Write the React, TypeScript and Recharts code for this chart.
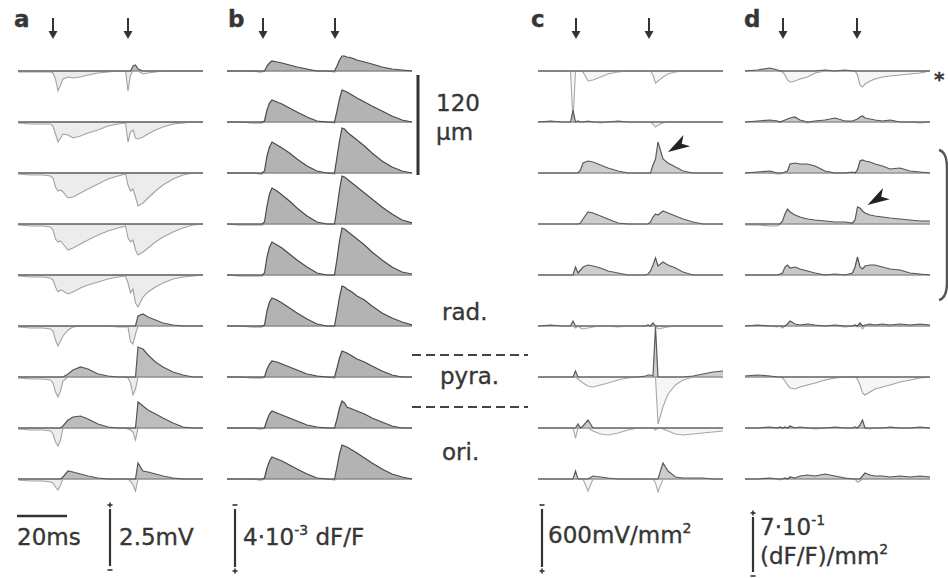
import React from "react";
import { Area, ComposedChart, Line, ReferenceDot, ReferenceLine, XAxis, YAxis } from "recharts";

// sample times (ms from start of each sweep), shared by all panels
const TIME = [0, 5, 10, 13, 14, 15, 16, 17, 18, 20, 22, 25, 28, 32, 36, 40, 43, 44, 45, 46, 47, 48, 50, 52, 55, 58, 62, 66, 70, 74];

// amplitudes in display units (60 units = one vertical scale bar), upper recording site first

// a: field potentials
const FIELD_POT = [
  [-1, -1, -1, -1, -2, -8, -20, -14, -8, -6, -7, -6, -4, -2, -1, 0, 0, -20, -4, 5, 6, 2, -3, -2, -1, 0, 0, 0, 0, 0],
  [-1, -2, -2, -2, -4, -12, -20, -16, -12, -13, -16, -14, -11, -8, -4, -2, -1, -20, -10, -8, -16, -17, -15, -12, -8, -5, -2, -1, 0, 0],
  [-1, -2, -2, -3, -5, -14, -18, -17, -19, -25, -24, -20, -16, -11, -6, -3, -1, -12, -18, -16, -24, -33, -30, -25, -18, -12, -6, -2, 0, 0],
  [-1, -2, -2, -3, -6, -15, -18, -17, -20, -26, -24, -20, -16, -11, -7, -4, -2, -14, -18, -16, -26, -31, -28, -24, -18, -13, -8, -4, -1, 0],
  [-1, -2, -2, -3, -5, -12, -17, -15, -16, -19, -17, -13, -10, -7, -4, -2, -1, -8, -18, -14, -28, -32, -22, -17, -12, -8, -4, -2, -1, 0],
  [-1, -2, -2, -3, -5, -14, -20, -15, -10, -4, -1, 0, 0, 0, 0, -1, -1, -1, -16, -18, -8, 10, 12, 9, 6, 3, 1, 0, 0, 0],
  [-1, -2, -2, -3, -6, -15, -20, -14, -4, 3, 7, 10, 8, 3, 1, 0, 0, -1, -6, -18, -12, 30, 28, 22, 15, 10, 5, 2, 0, 0],
  [-1, -2, -2, -3, -6, -14, -18, -12, 2, 8, 11, 12, 9, 4, 1, 0, 0, -1, -2, -4, -12, 26, 22, 18, 14, 10, 5, 1, 0, 0],
  [-1, -2, -2, -3, -4, -8, -11, -6, 2, 8, 7, 5, 3, 1, 0, 0, 0, 0, -2, -6, -12, 16, 8, 7, 5, 3, 1, 0, 0, 0],
];

// b: optical signal dF/F
const OPTICAL = [
  [0, 0, 0, -1, -1, 0, 5, 8, 10, 9, 8, 6, 4, 2, 0, 0, -1, 5, 11, 15, 15, 14, 13, 11, 9, 7, 4, 2, 1, 0],
  [0, 0, -1, -1, -1, 1, 12, 19, 22, 20, 18, 14, 10, 5, 1, 0, -1, 11, 23, 32, 31, 30, 27, 24, 20, 16, 11, 6, 2, 0],
  [0, 0, 0, -1, -1, 2, 17, 26, 31, 28, 25, 20, 14, 7, 2, 0, -1, 16, 32, 45, 44, 41, 37, 33, 27, 20, 12, 6, 2, 0],
  [0, -1, -1, -1, -1, 2, 18, 30, 36, 33, 29, 23, 16, 8, 2, 0, 0, 16, 34, 48, 47, 45, 41, 37, 31, 25, 17, 10, 4, 1],
  [0, -1, -1, -1, -1, 2, 18, 28, 33, 30, 27, 21, 15, 8, 2, 0, 0, 16, 34, 47, 46, 44, 40, 36, 30, 23, 15, 8, 3, 1],
  [0, 0, -1, -1, -1, 1, 15, 24, 28, 26, 23, 18, 13, 7, 2, 0, 0, 14, 29, 40, 39, 37, 34, 30, 26, 20, 13, 8, 4, 1],
  [0, 0, -1, -1, -1, 0, 8, 13, 16, 15, 13, 10, 7, 3, 1, 0, -1, 9, 19, 26, 25, 24, 21, 18, 15, 11, 6, 2, 0, 0],
  [0, 0, 0, -1, -1, 0, 8, 14, 17, 15, 13, 10, 7, 3, 1, 0, 0, 9, 20, 27, 25, 21, 19, 17, 14, 10, 6, 2, 0, 0],
  [0, 0, 0, -1, -1, 1, 11, 18, 22, 20, 18, 14, 10, 5, 1, 0, -1, 12, 25, 34, 33, 32, 29, 26, 21, 16, 10, 5, 2, 0],
];

// c: current source density of the field potentials
const CSD = [
  [0, 0, 0, 0, -50, 0, 0, 0, -1, -10, -9, -6, -3, -1, 0, 0, 0, 0, 0, -4, -12, -10, -6, -3, -1, 0, 0, 0, 0, 0],
  [0, 1, 0, 0, 12, 0, 1, 0, 0, 1, 0, -1, 0, 1, 0, 0, 0, 0, 0, -2, -5, -3, -1, 0, 0, 0, 0, 0, 0, 0],
  [0, 0, 0, 0, 0, 0, 0, 3, 10, 12, 11, 8, 5, 2, 0, 0, 0, 0, 0, 8, 14, 31, 14, 10, 6, 2, 0, 0, 0, 0],
  [0, 0, 0, 0, 0, 0, 0, 1, 5, 12, 11, 8, 5, 1, 0, 0, 0, 0, 2, 7, 10, 9, 13, 11, 8, 5, 2, 0, 0, 0],
  [0, 0, 0, 0, 0, 8, 2, 5, 8, 10, 9, 7, 4, 2, 0, 0, 0, 1, 4, 10, 17, 9, 13, 10, 7, 3, 0, 0, 0, 0],
  [0, 1, 0, 0, 5, -2, 0, -2, -3, -2, -1, 0, 0, -1, 0, 0, 0, 1, 0, 3, 0, -3, -2, -1, 0, 0, 0, 0, 0, 0],
  [0, 0, 0, 0, 0, 6, -2, -4, -6, -9, -10, -8, -6, -3, -1, 0, 1, 2, 2, 1, 50, -47, -30, -17, -8, -3, 1, 3, 5, 6],
  [0, 0, 0, 0, 0, -10, 4, 0, 2, 8, -3, -6, -7, -5, -2, 0, 0, 0, 0, 0, -2, 0, -1, -3, -6, -7, -6, -5, -4, -3],
  [0, 0, 0, 0, 0, 8, 0, 0, 0, -12, 3, 2, 1, 0, 0, 0, 0, 0, 0, 0, -4, -13, 16, 8, 2, 1, 1, 1, 0, 0],
];

// d: current source density of the optical signal
const OPTICAL_CSD = [
  [0, 1, 3, 1, 0, -1, -4, -9, -11, -10, -8, -6, -2, 1, 0, 1, 0, 0, -4, -14, -16, -13, -10, -8, -6, -5, -4, -3, -2, 0],
  [0, 1, 2, 1, 0, 1, 2, 3, 4, 5, 2, -1, 1, 2, 4, 1, 1, 2, 3, 5, 6, 4, 3, 2, 1, 2, 0, 0, -1, 0],
  [0, 1, 2, -1, -1, 0, 1, 2, 9, 10, 9, 9, 7, 2, 0, 0, 1, 0, 3, 12, 13, 12, 11, 9, 7, 4, 5, 2, 1, 0],
  [-1, -1, -2, -2, 0, 3, 10, 15, 12, 9, 7, 5, 4, 3, 2, 2, 1, 4, 17, 16, 13, 11, 9, 8, 7, 6, 5, 4, 3, 3],
  [0, 0, 0, 0, 1, 2, 8, 10, 7, 8, 6, 4, 2, 0, 1, 0, 2, 8, 18, 8, 6, 9, 10, 10, 8, 6, 5, 2, 1, 0],
  [0, 1, 0, -1, 0, -2, 0, 2, 5, 2, 1, 2, 1, 0, 1, -1, 0, 1, -1, 3, -3, 1, 2, 1, 2, 1, 2, 1, 2, 1],
  [1, 2, 1, 0, 0, -1, -4, -8, -11, -12, -10, -8, -6, -3, -1, 0, 0, 0, -2, -8, -16, -18, -15, -12, -10, -8, -5, -3, -1, 0],
  [0, 0, 1, 0, 1, 0, 1, 0, 2, 0, 1, 0, -1, 0, 1, 0, 0, 1, 0, 3, 8, 0, -1, 0, 0, 1, 0, 0, 1, 0],
  [0, 0, 1, 0, -1, 0, 1, 0, 2, 1, 3, 4, 3, 5, 3, 1, 0, 0, -3, -2, 3, 6, 4, 3, 3, 2, 3, 2, 3, 2],
];

// stimulus times (ms) for the arrows
const STIM_A = [14, 44];
const STIM_B = [14.4, 43.2];
const STIM_C = [15.2, 44.4];
const STIM_D = [15.2, 44.8];

// arrowheads marking the early spike: [trace, ms, amplitude]
const MARK_C = [2, 52, 21];
const MARK_D = [3, 49, 19];

const T_MAX = 74;
const PANEL_W = 185;
const PX_PER_MS = PANEL_W / T_MAX;
const CHART_H = 500;
const SPACING = 51;
const Y_MAX = 71;
const Y_MIN = Y_MAX - CHART_H;
const ARROW_TIP = 32;

const TEXT = "#363636";
const FONT = "'DejaVu Sans', 'Liberation Sans', sans-serif";

const PANELS = [
  { key: "a", left: 18, labelX: 14, traces: FIELD_POT, stim: STIM_A, mark: null,
    posFill: "#bdbdbd", negFill: "#ececec", posStroke: "#555", negStroke: "#a2a2a2", base: "#6a6a6a" },
  { key: "b", left: 227, labelX: 228, traces: OPTICAL, stim: STIM_B, mark: null,
    posFill: "#b3b3b3", negFill: "#f2f2f2", posStroke: "#4a4a4a", negStroke: "#8a8a8a", base: "#8a8a8a" },
  { key: "c", left: 538, labelX: 531, traces: CSD, stim: STIM_C, mark: MARK_C,
    posFill: "#cdcdcd", negFill: "#f6f6f6", posStroke: "#5a5a5a", negStroke: "#a8a8a8", base: "#707070" },
  { key: "d", left: 745, labelX: 744, traces: OPTICAL_CSD, stim: STIM_D, mark: MARK_D,
    posFill: "#c8c8c8", negFill: "#f6f6f6", posStroke: "#555", negStroke: "#a0a0a0", base: "#7a7a7a" },
];

function StimArrow(props: any) {
  const { cx, cy } = props;
  return (
    <g>
      <line x1={cx} y1={cy - 21} x2={cx} y2={cy - 6} stroke="#333" strokeWidth={2} />
      <path d={`M${cx - 4.5},${cy - 8}L${cx + 4.5},${cy - 8}L${cx},${cy}Z`} fill="#333" />
    </g>
  );
}

function Wedge(props: any) {
  const { cx, cy } = props;
  return <path transform={`translate(${cx},${cy}) rotate(-31)`} d="M0,0 L22,-6.5 L16,0 L22,6.5 Z" fill="#222" />;
}

function TracePanel({ panel }: { panel: (typeof PANELS)[number] }) {
  const rows = TIME.map((t, j) => {
    const r: Record<string, number> = { t };
    panel.traces.forEach((tr, i) => {
      r["s" + i] = tr[j];
    });
    return r;
  });

  return (
    <div style={{ position: "absolute", left: panel.left, top: 0 }}>
      <ComposedChart width={PANEL_W} height={CHART_H} data={rows} margin={{ top: 0, right: 0, bottom: 0, left: 0 }}>
        <XAxis dataKey="t" type="number" domain={[0, T_MAX]} hide />
        <YAxis type="number" domain={[Y_MIN, Y_MAX]} hide allowDataOverflow />
        {panel.traces.map((_, i) => {
          const off = -SPACING * i;
          const k = "s" + i;
          return [
            <Area key={"n" + i} type="linear" dataKey={(r: any) => [off + Math.min(r[k], 0), off]}
              fill={panel.negFill} fillOpacity={1} stroke="none" isAnimationActive={false} />,
            <Area key={"p" + i} type="linear" dataKey={(r: any) => [off, off + Math.max(r[k], 0)]}
              fill={panel.posFill} fillOpacity={1} stroke="none" isAnimationActive={false} />,
          ];
        })}
        {panel.traces.map((_, i) => (
          <ReferenceLine key={"b" + i} y={-SPACING * i} stroke={panel.base} strokeWidth={1} />
        ))}
        {panel.traces.map((_, i) => {
          const off = -SPACING * i;
          const k = "s" + i;
          return [
            <Line key={"ln" + i} type="linear" dataKey={(r: any) => off + Math.min(r[k], 0)}
              stroke={panel.negStroke} strokeWidth={1.1} dot={false} activeDot={false} isAnimationActive={false} />,
            <Line key={"lp" + i} type="linear" dataKey={(r: any) => off + Math.max(r[k], 0)}
              stroke={panel.posStroke} strokeWidth={1.2} dot={false} activeDot={false} isAnimationActive={false} />,
          ];
        })}
        {panel.stim.map((s, i) => (
          <ReferenceDot key={"st" + i} x={s} y={ARROW_TIP} r={0} shape={StimArrow} />
        ))}
        {panel.mark && (
          <ReferenceDot x={panel.mark[1]} y={-SPACING * panel.mark[0] + panel.mark[2]} r={0} shape={Wedge} />
        )}
      </ComposedChart>
    </div>
  );
}

function VBar({ x, y1, y2, top, bottom }: { x: number; y1: number; y2: number; top: string; bottom: string }) {
  const mark = (y: number, kind: string) => (
    <g>
      <line x1={x - 2.5} x2={x + 2.5} y1={y} y2={y} stroke="#333" strokeWidth={1.6} />
      {kind === "+" && <line x1={x} x2={x} y1={y - 2.5} y2={y + 2.5} stroke="#333" strokeWidth={1.6} />}
    </g>
  );
  return (
    <g>
      {mark(y1, top)}
      <line x1={x} x2={x} y1={y1 + 4} y2={y2 - 4} stroke="#333" strokeWidth={2.2} />
      {mark(y2, bottom)}
    </g>
  );
}

function Overlay() {
  return (
    <svg width={948} height={578} style={{ position: "absolute", left: 0, top: 0 }} fontFamily={FONT} fill={TEXT}
      stroke={TEXT} strokeWidth={0.35}>
      {PANELS.map((p) => (
        <text key={p.key} x={p.labelX} y={27} fontSize={23} fontWeight="bold">{p.key}</text>
      ))}

      {/* 120 µm depth bar and layer labels */}
      <line x1={418} x2={418} y1={75} y2={175} stroke="#333" strokeWidth={3} />
      <text x={436} y={111} fontSize={23}>120</text>
      <text x={436} y={140} fontSize={23}>µm</text>
      <text x={442} y={320} fontSize={23}>rad.</text>
      <line x1={412} x2={528} y1={355} y2={355} stroke="#444" strokeWidth={2} strokeDasharray="9 5" />
      <text x={440} y={384} fontSize={23}>pyra.</text>
      <line x1={412} x2={528} y1={407} y2={407} stroke="#444" strokeWidth={2} strokeDasharray="9 5" />
      <text x={442} y={460} fontSize={23}>ori.</text>

      {/* right edge */}
      <text x={934} y={86} fontSize={20} fontWeight="bold">*</text>
      <path d="M939,150 Q947,152 947,168 L947,282 Q947,298 939,300" stroke="#555" strokeWidth={2.5} fill="none" />

      {/* scale bars */}
      <line x1={17} x2={17 + 20 * PX_PER_MS} y1={516} y2={516} stroke="#333" strokeWidth={2.5} />
      <text x={17} y={545} fontSize={23}>20ms</text>

      <VBar x={110} y1={505} y2={570} top="+" bottom="-" />
      <text x={119} y={545} fontSize={23}>2.5mV</text>

      <VBar x={235} y1={505} y2={571} top="-" bottom="+" />
      <text x={243} y={545} fontSize={23}>
        4·10<tspan fontSize={14} dy={-10}>-3</tspan>
        <tspan dy={10}> dF/F</tspan>
      </text>

      <VBar x={542} y1={505} y2={571} top="-" bottom="+" />
      <text x={548} y={543} fontSize={23}>
        600mV/mm<tspan fontSize={14} dy={-10}>2</tspan>
      </text>

      <VBar x={753} y1={513} y2={576} top="+" bottom="-" />
      <text x={760} y={535} fontSize={23}>
        7·10<tspan fontSize={14} dy={-10}>-1</tspan>
      </text>
      <text x={760} y={564} fontSize={23}>
        (dF/F)/mm<tspan fontSize={14} dy={-10}>2</tspan>
      </text>
    </svg>
  );
}

export default function App() {
  return (
    <div style={{ position: "absolute", left: 0, top: 0, width: 948, height: 578, background: "#fff", overflow: "hidden" }}>
      {PANELS.map((p) => (
        <TracePanel key={p.key} panel={p} />
      ))}
      <Overlay />
    </div>
  );
}
